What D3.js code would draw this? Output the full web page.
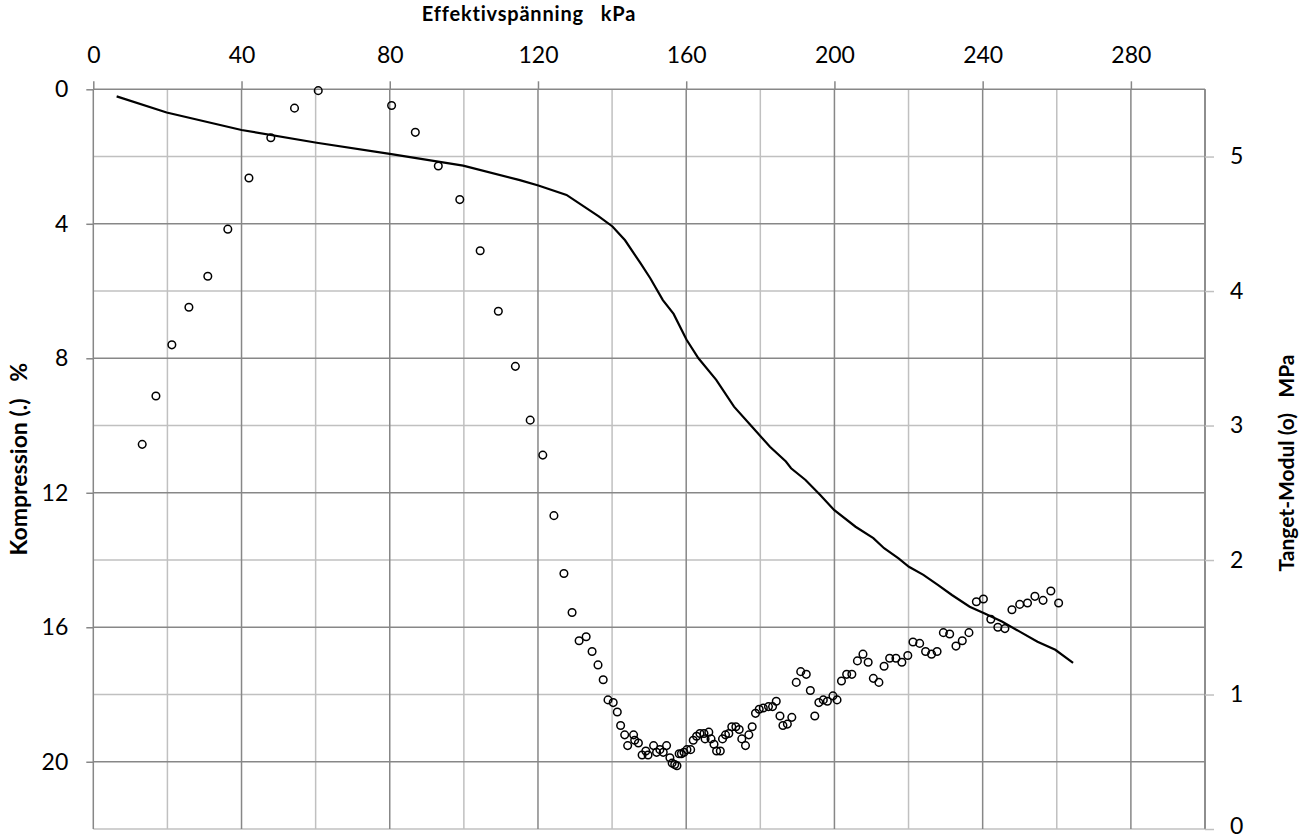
<!DOCTYPE html>
<html>
<head>
  <meta charset="utf-8" />
  <title>Kompression och tangentmodul</title>
  <script src="https://d3js.org/d3.v7.min.js"></script>
  <style>
    body {
      margin: 0;
      background: #fff;
      font-family: Lato, "Open Sans", sans-serif;
    }

    svg {
      display: block;
    }

    .tick text {
      font-family: Lato, sans-serif;
      font-size: 23px;
      fill: #000;
    }

    .title {
      font-family: Lato, sans-serif;
      font-weight: bold;
      fill: #000;
    }
  </style>
</head>
<body>

<svg width="1314" height="839"></svg>

<script>
  // compression curve (left axis, %)
  const curveKpa  = [6.3, 19.8, 40.0, 60.3, 80.0, 99.8, 115.1, 120.1, 127.7, 136.3, 140.1, 143.5, 147.7, 150.3,
                     153.7, 156.6, 160.1, 163.3, 168.1, 172.9, 177.7, 182.6, 186.9, 188.3, 192.2, 196.1, 199.9,
                     205.7, 210.5, 213.4, 217.3, 220.1, 224.0, 227.9, 231.7, 236.5, 240.4, 245.2, 250.0, 254.8,
                     259.6, 264.4];
  const curveComp = [0.21, 0.69, 1.21, 1.59, 1.92, 2.27, 2.70, 2.86, 3.14, 3.77, 4.08, 4.49, 5.18, 5.62,
                     6.27, 6.68, 7.45, 8.00, 8.64, 9.44, 10.03, 10.63, 11.07, 11.27, 11.62, 12.06, 12.51,
                     13.01, 13.35, 13.65, 13.95, 14.20, 14.44, 14.74, 15.04, 15.39, 15.58, 15.83, 16.13, 16.43,
                     16.67, 17.06];

  // tangent modulus (right axis, MPa)
  const modKpa = [13.2, 16.9, 21.2, 25.8, 30.9, 36.3, 42.0, 47.9, 54.3, 60.7, 80.5, 86.9, 93.1, 98.9, 104.4,
                  109.3, 113.9, 117.9, 121.3, 124.3, 127.0, 129.2, 131.1, 133.0, 134.6, 136.2, 137.6, 138.9,
                  140.3, 141.4, 142.3, 143.4, 144.2, 145.8, 146.1, 147.1, 148.1, 149.1, 149.7, 151.2, 152.0,
                  152.9, 153.8, 154.7, 155.6, 156.2, 156.9, 157.5, 158.1, 158.7, 159.4, 160.2, 161.2, 161.9,
                  162.8, 163.7, 164.8, 165.1, 166.1, 166.7, 167.5, 168.2, 169.2, 169.8, 170.6, 171.5, 172.3,
                  173.4, 174.3, 175.0, 176.0, 176.9, 177.8, 178.7, 179.7, 180.8, 182.2, 183.3, 184.3, 185.3,
                  186.1, 187.3, 188.5, 189.7, 190.9, 192.4, 193.5, 194.7, 195.8, 197.0, 198.1, 199.6, 200.7,
                  201.9, 203.3, 204.7, 206.2, 207.7, 209.1, 210.5, 212.0, 213.4, 214.9, 216.6, 218.2, 219.8,
                  221.2, 223.0, 224.6, 226.2, 227.7, 229.4, 231.1, 232.8, 234.5, 236.3, 238.3, 240.2, 242.2,
                  244.1, 246.0, 247.9, 250.0, 252.1, 254.1, 256.3, 258.4, 260.5];
  const modMpa = [2.86, 3.22, 3.60, 3.88, 4.11, 4.46, 4.84, 5.14, 5.36, 5.49, 5.38, 5.18, 4.93, 4.68, 4.30,
                  3.85, 3.44, 3.04, 2.78, 2.33, 1.90, 1.61, 1.40, 1.43, 1.32, 1.22, 1.11, 0.96,
                  0.94, 0.87, 0.77, 0.70, 0.62, 0.70, 0.66, 0.64, 0.55, 0.58, 0.55, 0.62, 0.57,
                  0.59, 0.57, 0.62, 0.53, 0.49, 0.48, 0.47, 0.56, 0.56, 0.57, 0.59, 0.59, 0.66,
                  0.69, 0.71, 0.71, 0.67, 0.72, 0.67, 0.63, 0.58, 0.58, 0.67, 0.70, 0.71, 0.76,
                  0.76, 0.74, 0.67, 0.62, 0.70, 0.76, 0.86, 0.89, 0.90, 0.91, 0.91, 0.95, 0.84,
                  0.77, 0.78, 0.83, 1.09, 1.17, 1.15, 1.03, 0.84, 0.94, 0.96, 0.95, 0.99, 0.96,
                  1.10, 1.15, 1.15, 1.25, 1.30, 1.24, 1.12, 1.09, 1.21, 1.27, 1.27, 1.24, 1.29,
                  1.39, 1.38, 1.32, 1.30, 1.32, 1.46, 1.45, 1.36, 1.40, 1.46, 1.69, 1.71, 1.56,
                  1.50, 1.49, 1.63, 1.67, 1.68, 1.73, 1.70, 1.77, 1.68];

  const xTicks = [0, 40, 80, 120, 160, 200, 240, 280];
  const xMinor = [20, 60, 100, 140, 180, 220, 260, 300];
  const compTicks = [0, 4, 8, 12, 16, 20];
  const modTicks = [0, 1, 2, 3, 4, 5];

  const svg = d3.select("svg");
  const plotL = 93.3, plotR = 1205, plotT = 89.3, plotB = 829;

  const x = d3.scaleLinear().domain([0, 300]).range([plotL, plotR]);
  const yComp = d3.scaleLinear().domain([0, 22]).range([plotT, plotB]);
  const yMod = d3.scaleLinear().domain([0, 5.5]).range([plotB, plotT]);

  const dark = "#878787", light = "#c0c0c0";

  // grid
  const grid = svg.append("g");
  grid.selectAll(".vmin").data(xMinor).join("line")
    .attr("x1", d => x(d)).attr("x2", d => x(d))
    .attr("y1", plotT).attr("y2", plotB)
    .attr("stroke", d => d === 300 ? dark : light).attr("stroke-width", 1.5);
  grid.selectAll(".hmin").data(modTicks).join("line")
    .attr("x1", plotL).attr("x2", plotR)
    .attr("y1", d => yMod(d)).attr("y2", d => yMod(d))
    .attr("stroke", light).attr("stroke-width", 1.5);
  grid.selectAll(".vmaj").data(xTicks).join("line")
    .attr("x1", d => x(d)).attr("x2", d => x(d))
    .attr("y1", plotT).attr("y2", plotB)
    .attr("stroke", dark).attr("stroke-width", 1.5);
  grid.selectAll(".hmaj").data(compTicks).join("line")
    .attr("x1", plotL).attr("x2", plotR)
    .attr("y1", d => yComp(d)).attr("y2", d => yComp(d))
    .attr("stroke", dark).attr("stroke-width", 1.5);

  // axes
  const xAxis = svg.append("g")
    .attr("transform", `translate(0,${plotT})`)
    .call(d3.axisTop(x).tickValues(xTicks).tickSize(8).tickPadding(18));
  xAxis.select(".domain").remove();
  xAxis.selectAll(".tick line").attr("stroke", dark).attr("stroke-width", 1.5);

  const yAxis = svg.append("g")
    .attr("transform", `translate(${plotL},0)`)
    .call(d3.axisLeft(yComp).tickValues(compTicks).tickSize(7).tickPadding(18));
  yAxis.select(".domain").remove();
  yAxis.selectAll(".tick line").attr("stroke", dark).attr("stroke-width", 1.5);

  const y2Axis = svg.append("g")
    .attr("transform", `translate(${plotR},0)`)
    .call(d3.axisRight(yMod).tickValues(modTicks).tickSize(9).tickPadding(16).tickFormat(d3.format("d")));
  y2Axis.select(".domain").attr("stroke", dark).attr("stroke-width", 1.5)
    .attr("d", `M0,${plotT}V${plotB}`);
  y2Axis.selectAll(".tick line").attr("stroke", light).attr("stroke-width", 1.5);
  // keep the bottom label inside the page
  y2Axis.selectAll(".tick text").filter(d => d === 0).attr("dy", "0.2em");

  // compression curve
  const line = d3.line()
    .x((d, i) => x(curveKpa[i]))
    .y(d => yComp(d));
  svg.append("path")
    .datum(curveComp)
    .attr("fill", "none")
    .attr("stroke", "#000")
    .attr("stroke-width", 2.2)
    .attr("d", line);

  // tangent modulus points
  svg.append("g").selectAll("circle")
    .data(modMpa)
    .join("circle")
    .attr("cx", (d, i) => x(modKpa[i]))
    .attr("cy", d => yMod(d))
    .attr("r", 3.8)
    .attr("fill", "none")
    .attr("stroke", "#000")
    .attr("stroke-width", 1.5);

  // titles
  svg.append("text").attr("class", "title")
    .attr("x", 529).attr("y", 21).attr("text-anchor", "middle")
    .style("font-size", "20px")
    .style("letter-spacing", "0.8px")
    .attr("xml:space", "preserve")
    .text("Effektivspänning   kPa");

  svg.append("text").attr("class", "title")
    .attr("transform", `translate(27,${(plotT + plotB) / 2}) rotate(-90)`)
    .attr("text-anchor", "middle")
    .style("font-size", "23px")
    .attr("xml:space", "preserve")
    .text("Kompression (.)   %");

  svg.append("text").attr("class", "title")
    .attr("transform", `translate(1294,463) rotate(-90)`)
    .attr("text-anchor", "middle")
    .style("font-size", "21px")
    .attr("xml:space", "preserve")
    .text("Tanget-Modul (o)   MPa");
</script>

</body>
</html>
